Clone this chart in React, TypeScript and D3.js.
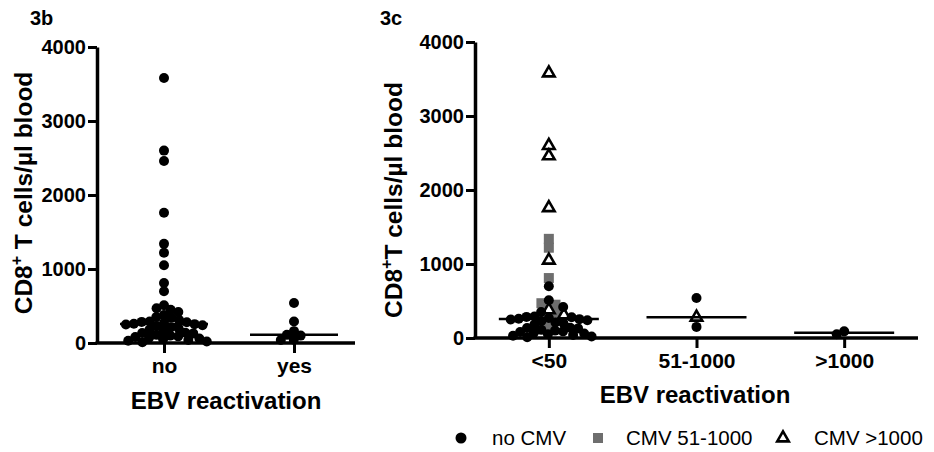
import React, { useEffect, useRef } from "react"
import * as d3 from "d3"

const FONT = "'Liberation Sans', Arial, Helvetica, sans-serif"

const yTicks = [0, 1000, 2000, 3000, 4000]
const leftCats = ["no", "yes"]
const rightCats = ["<50", "51-1000", ">1000"]

// right panel, EBV <50, split by CMV load
const lowNoCmv = [700, 510, 420, 350, 290, 285, 280, 270, 260, 255, 250, 240, 230, 210, 200,
  180, 140, 135, 130, 110, 100, 90, 80, 70, 60, 50, 40, 30, 20, 10]
const lowCmvMid = [1340, 1220, 810, 470, 450, 340, 160]
const lowCmvHigh = [3580, 2600, 2460, 1760, 1050, 380, 310]
// EBV 51-1000
const midNoCmv = [540, 150]
const midCmvHigh = [280]
// EBV >1000
const highNoCmv = [90, 50]

// left panel
const ebvNo = [...lowNoCmv, ...lowCmvMid, ...lowCmvHigh]
const ebvYes = [540, 290, 160, 110, 100, 45, 40]

type Pt = { v: number, kind: string }

// simple beeswarm: each point goes to the free x closest to the column centre
function swarm(pts: Pt[], y: (v: number) => number, diam: number) {
  const placed: { x: number, y: number }[] = []
  const sorted = [...pts].sort((a, b) => b.v - a.v)
  return sorted.map(p => {
    const py = y(p.v)
    const blocks: number[][] = []
    placed.forEach(q => {
      const dy = Math.abs(q.y - py)
      if (dy < diam) {
        const dx = Math.sqrt(diam * diam - dy * dy)
        blocks.push([q.x - dx, q.x + dx])
      }
    })
    const cands = [0, ...blocks.flat()]
    const ok = cands.filter(c => blocks.every(([a, b]) => c <= a + 1e-6 || c >= b - 1e-6))
    ok.sort((a, b) => Math.abs(a) - Math.abs(b) || a - b)
    const x = ok[0]
    placed.push({ x, y: py })
    return { ...p, dx: x, py }
  })
}

function App() {
  const svgRef = useRef<SVGSVGElement>(null)

  useEffect(() => {
    const svg = d3.select(svgRef.current)
    svg.selectAll("*").remove()

    const tri = d3.symbol().type(d3.symbolTriangle).size(58)

    function drawPoints(g, pts: Pt[], cx: number, y) {
      const sw = swarm(pts, y, 8)
      const order = ["mid", "high", "none"]
      order.forEach(k => {
        const d = sw.filter(p => p.kind === k)
        if (k === "none") {
          g.selectAll(null).data(d).enter().append("circle")
            .attr("cx", p => cx + p.dx).attr("cy", p => p.py).attr("r", 5).attr("fill", "#000")
        } else if (k === "mid") {
          g.selectAll(null).data(d).enter().append("rect")
            .attr("x", p => cx + p.dx - 5).attr("y", p => p.py - 5)
            .attr("width", 10).attr("height", 10).attr("fill", "#6e6e6e")
        } else {
          g.selectAll(null).data(d).enter().append("path")
            .attr("d", tri)
            .attr("transform", p => `translate(${cx + p.dx},${p.py})`)
            .attr("fill", "#fff").attr("stroke", "#000").attr("stroke-width", 2.6)
        }
      })
    }

    function drawPanel(opts) {
      const { y, x, x0, x1, half, columns, labelX, labelBaseline, label, yLabel, yLabelX, yLabelY, tag, tagX } = opts
      const g = svg.append("g")
      const y0 = y(0)

      const gy = g.append("g").attr("transform", `translate(${x0},0)`)
        .call(d3.axisLeft(y).tickValues(yTicks).tickSize(9).tickSizeOuter(0).tickPadding(2).tickFormat(d3.format("d")))
      gy.select(".domain").attr("stroke-width", 3.5)
      gy.selectAll(".tick line").attr("stroke-width", 3)
      gy.selectAll(".tick text").attr("fill", "#000")
        .style("font-family", FONT).style("font-size", "20px").style("font-weight", "bold")

      const gx = g.append("g").attr("transform", `translate(0,${y0})`)
        .call(d3.axisBottom(x).tickSize(10).tickSizeOuter(0).tickPadding(5))
      gx.select(".domain").remove()
      gx.selectAll(".tick line").attr("stroke-width", 3)
      gx.selectAll(".tick text").attr("fill", "#000")
        .style("font-family", FONT).style("font-size", "21px").style("font-weight", "bold")
      g.append("line").attr("x1", x0 - 1.5).attr("x2", x1).attr("y1", y0).attr("y2", y0)
        .attr("stroke", "#000").attr("stroke-width", 3.5)

      columns.forEach(col => {
        const cx = x(col.cat)
        drawPoints(g, col.pts, cx, y)
        const med = d3.median(col.pts, (p: Pt) => p.v)
        g.append("line").attr("x1", cx - half).attr("x2", cx + half)
          .attr("y1", y(med)).attr("y2", y(med)).attr("stroke", "#000").attr("stroke-width", 2.5)
      })

      g.append("text").attr("x", labelX).attr("y", labelBaseline).attr("text-anchor", "middle")
        .attr("font-family", FONT).attr("font-size", 24).attr("font-weight", "bold").text(label)

      const yl = g.append("text").attr("transform", `translate(${yLabelX},${yLabelY}) rotate(-90)`)
        .attr("text-anchor", "middle").attr("font-family", FONT).attr("font-size", 24.5).attr("font-weight", "bold")
      yl.append("tspan").text("CD8")
      yl.append("tspan").attr("font-size", 16).attr("dy", -10).text("+")
      yl.append("tspan").attr("dy", 10).text(yLabel)

      g.append("text").attr("x", tagX).attr("y", 25).attr("font-family", FONT)
        .attr("font-size", 20).attr("font-weight", "bold").text(tag)
    }

    const none = (v: number) => ({ v, kind: "none" })

    drawPanel({
      y: d3.scaleLinear().domain([0, 4000]).range([343, 47]),
      x: d3.scalePoint().domain(leftCats).range([99, 359]).padding(0.5),
      x0: 97, x1: 355, half: 44,
      columns: [
        { cat: "no", pts: ebvNo.map(none) },
        { cat: "yes", pts: ebvYes.map(none) },
      ],
      labelX: 226, labelBaseline: 409, label: "EBV reactivation",
      yLabel: " T cells/\u00b5l blood", yLabelX: 32, yLabelY: 193,
      tag: "3b", tagX: 30,
    })

    drawPanel({
      y: d3.scaleLinear().domain([0, 4000]).range([338, 42]),
      x: d3.scalePoint().domain(rightCats).range([475, 918]).padding(0.5),
      x0: 475, x1: 918, half: 50,
      columns: [
        { cat: "<50", pts: [...lowNoCmv.map(none), ...lowCmvMid.map(v => ({ v, kind: "mid" })), ...lowCmvHigh.map(v => ({ v, kind: "high" }))] },
        { cat: "51-1000", pts: [...midNoCmv.map(none), ...midCmvHigh.map(v => ({ v, kind: "high" }))] },
        { cat: ">1000", pts: highNoCmv.map(none) },
      ],
      labelX: 695, labelBaseline: 403, label: "EBV reactivation",
      yLabel: "T cells/\u00b5l blood", yLabelX: 402, yLabelY: 200,
      tag: "3c", tagX: 380,
    })

    // legend
    const lg = svg.append("g").attr("font-family", FONT).attr("font-size", 20.5)
    const ly = 438
    lg.append("circle").attr("cx", 461).attr("cy", ly).attr("r", 5.5).attr("fill", "#000")
    lg.append("text").attr("x", 492).attr("y", ly + 7).text("no CMV")
    lg.append("rect").attr("x", 593).attr("y", ly - 5).attr("width", 10).attr("height", 10).attr("fill", "#6e6e6e")
    lg.append("text").attr("x", 626).attr("y", ly + 7).text("CMV 51-1000")
    lg.append("path").attr("d", tri).attr("transform", `translate(783,${ly})`)
      .attr("fill", "#fff").attr("stroke", "#000").attr("stroke-width", 2.6)
    lg.append("text").attr("x", 814).attr("y", ly + 7).text("CMV >1000")
  }, [])

  return (
    <div style={{ position: "absolute", left: 0, top: 0 }}>
      <svg ref={svgRef} width={934} height={452} style={{ display: "block", background: "#fff" }}></svg>
    </div>
  )
}

export default App
